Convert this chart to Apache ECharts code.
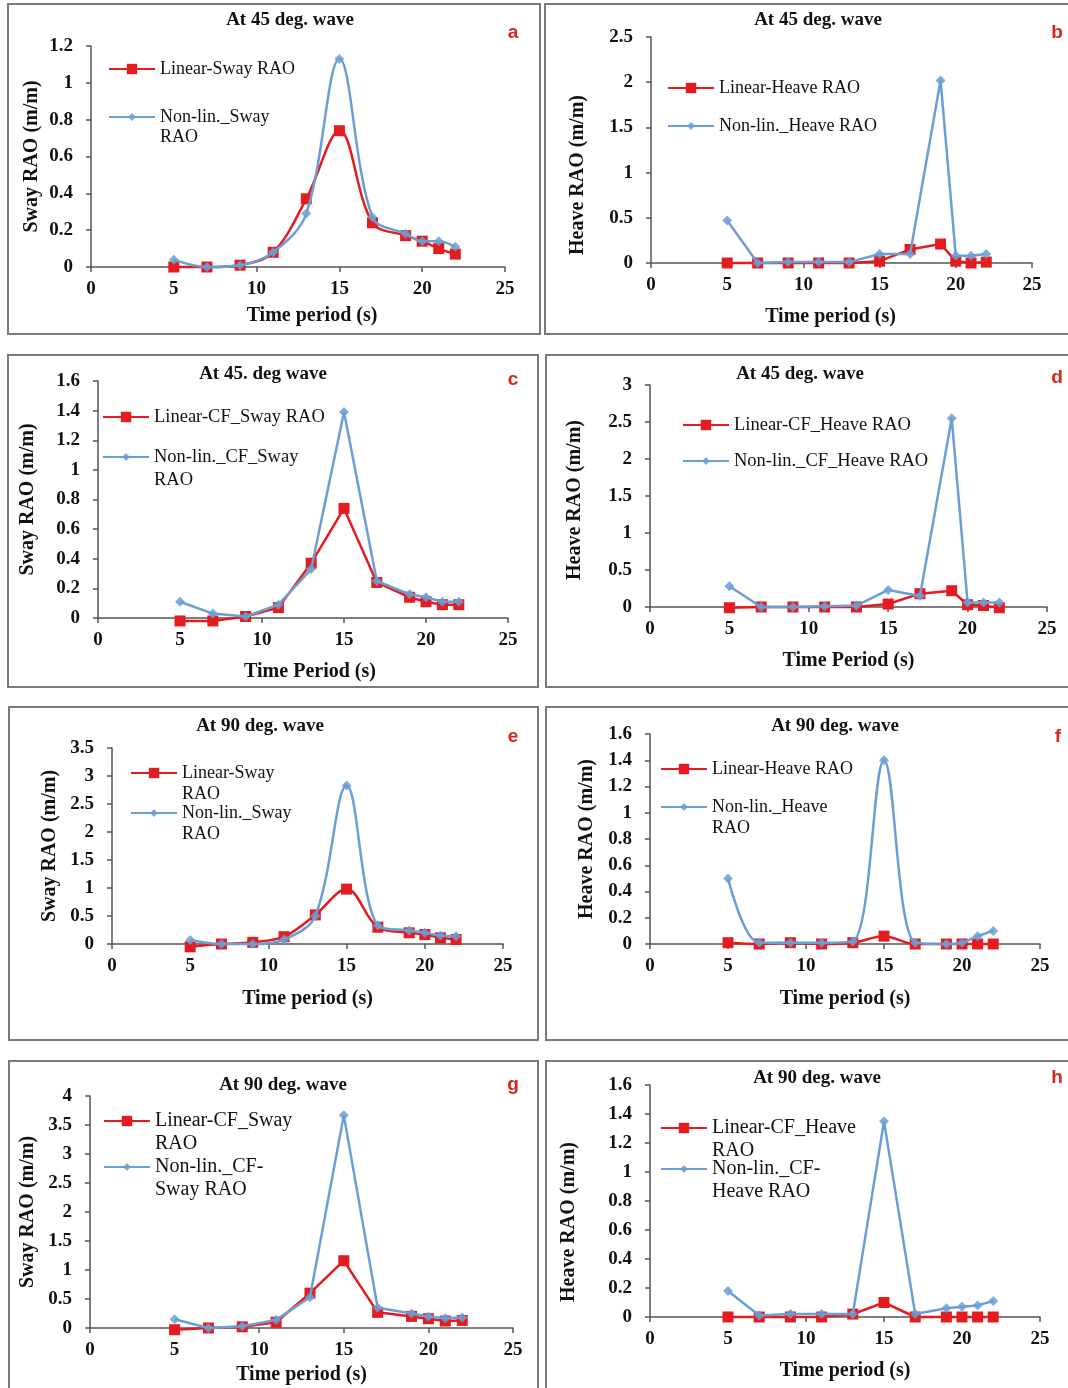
<!DOCTYPE html>
<html><head><meta charset="utf-8">
<script src="https://cdn.jsdelivr.net/npm/echarts@6/dist/echarts.min.js"></script>
<style>html,body{margin:0;padding:0;background:#fff}#c{width:1068px;height:1388px}</style>
</head><body><div id="c"></div>
<script>
// ---- data ----
const periods = [5, 7, 9, 11, 13, 15, 17, 19, 20, 21, 22];
const xTicks = [0, 5, 10, 15, 20, 25];

const aLinear = [0, 0, 0.01, 0.08, 0.37, 0.74, 0.24, 0.17, 0.14, 0.10, 0.07];
const aNonlin = [0.04, 0, 0.01, 0.08, 0.29, 1.13, 0.27, 0.18, 0.14, 0.14, 0.11];

const bLinear = [0, 0, 0, 0, 0, 0.02, 0.15, 0.21, 0.02, 0, 0.01];
const bNonlin = [0.47, 0, 0.01, 0.01, 0.01, 0.10, 0.10, 2.02, 0.08, 0.08, 0.10];

const cLinear = [-0.02, -0.02, 0.01, 0.07, 0.37, 0.74, 0.24, 0.14, 0.11, 0.09, 0.09];
const cNonlin = [0.11, 0.03, 0.01, 0.09, 0.33, 1.39, 0.25, 0.16, 0.14, 0.11, 0.11];

const dLinear = [-0.01, 0, 0, 0, 0, 0.04, 0.18, 0.22, 0.03, 0.02, -0.01];
const dNonlin = [0.28, 0, 0, 0.01, 0.02, 0.23, 0.15, 2.55, 0.06, 0.06, 0.06];

const eLinear = [-0.05, 0, 0.03, 0.13, 0.52, 0.98, 0.30, 0.20, 0.17, 0.11, 0.08];
const eNonlin = [0.07, 0, 0, 0.08, 0.50, 2.83, 0.33, 0.24, 0.20, 0.15, 0.14];

const fLinear = [0.01, 0, 0.01, 0, 0.01, 0.06, 0, 0, 0, 0, 0];
const fNonlin = [0.50, 0.01, 0.01, 0.01, 0.02, 1.40, 0.01, 0, 0.01, 0.06, 0.10];

const gLinear = [-0.03, 0, 0.02, 0.10, 0.60, 1.16, 0.27, 0.20, 0.16, 0.12, 0.13];
const gNonlin = [0.15, 0, 0.03, 0.14, 0.53, 3.67, 0.35, 0.25, 0.20, 0.17, 0.18];

const hLinear = [0, 0, 0, 0, 0.02, 0.10, 0, 0, 0, 0, 0];
const hNonlin = [0.18, 0.01, 0.02, 0.02, 0.02, 1.35, 0.02, 0.06, 0.07, 0.08, 0.11];

const panelTitles = ['At 45 deg. wave', 'At 45 deg. wave', 'At 45. deg wave', 'At 45 deg. wave',
                     'At 90 deg. wave', 'At 90 deg. wave', 'At 90 deg. wave', 'At 90 deg. wave'];
const panelLetters = ['a', 'b', 'c', 'd', 'e', 'f', 'g', 'h'];
const yNames = ['Sway RAO (m/m)', 'Heave RAO (m/m)', 'Sway RAO (m/m)', 'Heave RAO (m/m)',
                'Sway RAO (m/m)', 'Heave RAO (m/m)', 'Sway RAO (m/m)', 'Heave RAO (m/m)'];
const xNames = ['Time period (s)', 'Time period (s)', 'Time Period (s)', 'Time Period (s)',
                'Time period (s)', 'Time period (s)', 'Time period (s)', 'Time period (s)'];
const linearNames = ['Linear-Sway RAO', 'Linear-Heave RAO', 'Linear-CF_Sway RAO', 'Linear-CF_Heave RAO',
                     'Linear-Sway RAO ', 'Linear-Heave RAO ', 'Linear-CF_Sway RAO ', 'Linear-CF_Heave RAO '];
const nonlinNames = ['Non-lin._Sway RAO', 'Non-lin._Heave RAO', 'Non-lin._CF_Sway RAO', 'Non-lin._CF_Heave RAO',
                     'Non-lin._Sway RAO ', 'Non-lin._Heave RAO ', 'Non-lin._CF-Sway RAO', 'Non-lin._CF-Heave RAO'];
// displayed (wrapped) legend labels
const linearLabels = ['Linear-Sway RAO', 'Linear-Heave RAO', 'Linear-CF_Sway RAO', 'Linear-CF_Heave RAO',
                      'Linear-Sway\nRAO', 'Linear-Heave RAO', 'Linear-CF_Sway\nRAO', 'Linear-CF_Heave\nRAO'];
const nonlinLabels = ['Non-lin._Sway\nRAO', 'Non-lin._Heave RAO', 'Non-lin._CF_Sway\nRAO', 'Non-lin._CF_Heave RAO',
                      'Non-lin._Sway\nRAO', 'Non-lin._Heave\nRAO', 'Non-lin._CF-\nSway RAO', 'Non-lin._CF-\nHeave RAO'];
const yMaxes = [1.2, 2.5, 1.6, 3, 3.5, 1.6, 4, 1.6];
const yIntervals = [0.2, 0.5, 0.2, 0.5, 0.5, 0.2, 0.5, 0.2];
const linearData = [aLinear, bLinear, cLinear, dLinear, eLinear, fLinear, gLinear, hLinear];
const nonlinData = [aNonlin, bNonlin, cNonlin, dNonlin, eNonlin, fNonlin, gNonlin, hNonlin];

// ---- layout ----
const layout = [
  {box:[8,4,532,330],   grid:[91,46,414,221],   title:[290,20],  letter:[513,33],  yGap:49, yShift:0,  xGap:39, xShift:14, smooth:true,
   leg1:[108,69], leg2:[108,117], lf:18, lh:20},
  {box:[545,4,540,330], grid:[651,37,381,226],  title:[818,20],  letter:[1057,33], yGap:63, yShift:25, xGap:44, xShift:-11, smooth:false,
   leg1:[667,88], leg2:[667,126], lf:18, lh:22},
  {box:[8,355,530,332], grid:[98,381,410,237],  title:[263,374], letter:[513,380], yGap:60, yShift:0,  xGap:44, xShift:7, smooth:false,
   leg1:[102,417], leg2:[102,457], lf:18.5, lh:23},
  {box:[546,355,540,332], grid:[650,385,397,222], title:[800,374], letter:[1057,378], yGap:65, yShift:4, xGap:44, xShift:0, smooth:false,
   leg1:[682,425], leg2:[682,461], lf:18.5, lh:22},
  {box:[9,707,529,333], grid:[112,748,391,196], title:[260,726], letter:[513,737], yGap:52, yShift:0, xGap:45, xShift:0, smooth:true,
   leg1:[130,773], leg2:[130,813], lf:18, lh:21},
  {box:[546,707,540,333], grid:[650,734,390,210], title:[835,726], letter:[1058,737], yGap:53, yShift:0, xGap:45, xShift:0, smooth:true,
   leg1:[660,769], leg2:[660,807], lf:18, lh:21},
  {box:[9,1061,529,340], grid:[90,1096,423,232], title:[283,1085], letter:[513,1085], yGap:52, yShift:0, xGap:37, xShift:0, smooth:false,
   leg1:[103,1121], leg2:[103,1167], lf:20, lh:23},
  {box:[546,1061,540,340], grid:[650,1085,390,232], title:[817,1078], letter:[1057,1078], yGap:71, yShift:21, xGap:44, xShift:0, smooth:false,
   leg1:[660,1128], leg2:[660,1169], lf:20, lh:23}
];

const SERIF = "'Liberation Serif', 'Times New Roman', serif";
const RED = '#e51c1f';
const BLUE = '#6a9fd3';
const AXIS = '#555555';

const option = {
  animation: false,
  backgroundColor: '#ffffff',
  title: [], grid: [], xAxis: [], yAxis: [], series: [], legend: [], graphic: []
};

layout.forEach((L, i) => {
  // panel border
  option.graphic.push({
    type: 'rect', silent: true,
    shape: {x: L.box[0], y: L.box[1], width: L.box[2], height: L.box[3]},
    style: {fill: 'none', stroke: '#7a7a7a', lineWidth: 2}
  });
  // panel letter
  option.graphic.push({
    type: 'text', silent: true, x: L.letter[0], y: L.letter[1],
    style: {text: panelLetters[i], fill: '#d9261c', font: "bold 19px 'Liberation Sans', Arial, sans-serif",
            align: 'center', verticalAlign: 'middle'}
  });
  option.title.push({
    text: panelTitles[i], left: L.title[0], top: L.title[1], padding: 0,
    textAlign: 'center', textVerticalAlign: 'middle',
    textStyle: {fontFamily: SERIF, fontWeight: 'bold', fontSize: 19, color: '#111'}
  });
  option.grid.push({left: L.grid[0], top: L.grid[1], width: L.grid[2], height: L.grid[3], containLabel: false});
  option.xAxis.push({
    type: 'value', gridIndex: i, min: 0, max: 25, interval: 5,
    name: xNames[i], nameLocation: 'middle', nameGap: L.xGap,
    nameTextStyle: {fontFamily: SERIF, fontWeight: 'bold', fontSize: 20, color: '#111',
                    padding: L.xShift >= 0 ? [0, 0, 0, 2 * L.xShift] : [0, -2 * L.xShift, 0, 0]},
    axisLine: {onZero: false, lineStyle: {color: AXIS, width: 1.5}},
    axisTick: {show: true, length: 5, lineStyle: {color: AXIS, width: 1.5}},
    axisLabel: {margin: 13, fontFamily: SERIF, fontWeight: 'bold', fontSize: 19, color: '#111'},
    splitLine: {show: false}
  });
  option.yAxis.push({
    type: 'value', gridIndex: i, min: 0, max: yMaxes[i], interval: yIntervals[i],
    name: yNames[i], nameLocation: 'middle', nameGap: L.yGap,
    nameTextStyle: {fontFamily: SERIF, fontWeight: 'bold', fontSize: 20, color: '#111',
                    padding: L.yShift >= 0 ? [0, 2 * L.yShift, 0, 0] : [0, 0, 0, -2 * L.yShift]},
    axisLine: {show: true, lineStyle: {color: AXIS, width: 1.5}},
    axisTick: {show: true, length: 5, lineStyle: {color: AXIS, width: 1.5}},
    axisLabel: {margin: 18, fontFamily: SERIF, fontWeight: 'bold', fontSize: 19, color: '#111'},
    splitLine: {show: false}
  });
  const sm = L.smooth ? 0.35 : false;
  option.series.push({
    name: linearNames[i], type: 'line', xAxisIndex: i, yAxisIndex: i,
    data: periods.map((p, k) => [p, linearData[i][k]]),
    smooth: sm, clip: false, symbol: 'rect', symbolSize: 11,
    lineStyle: {color: RED, width: 2.5}, itemStyle: {color: RED}, z: 2
  });
  option.series.push({
    name: nonlinNames[i], type: 'line', xAxisIndex: i, yAxisIndex: i,
    data: periods.map((p, k) => [p, nonlinData[i][k]]),
    smooth: sm, clip: false, symbol: 'diamond', symbolSize: 10,
    lineStyle: {color: BLUE, width: 2.5}, itemStyle: {color: BLUE, opacity: 0.85}, z: 3
  });
  // legends (one per item for placement). Wrapped labels get a blank first line so that
  // the first text line sits level with the legend icon (legend text is centred on the icon).
  [[linearNames[i], linearLabels[i], L.leg1, 13], [nonlinNames[i], nonlinLabels[i], L.leg2, 10]].forEach(([nm, lab, pos, ih]) => {
    const wrapped = lab.indexOf('\n') >= 0;
    const shown = wrapped ? ' \n' + lab : lab;
    const textH = wrapped ? 3 * L.lh : L.lh;
    option.legend.push({
      data: [nm], left: pos[0], top: pos[1] - Math.max(textH, ih) / 2, padding: 0,
      itemWidth: 46, itemHeight: ih, itemGap: 0, selectedMode: false,
      formatter: () => shown,
      textStyle: {fontFamily: SERIF, fontSize: L.lf, color: '#111', lineHeight: L.lh}
    });
  });
});

const chart = echarts.init(document.getElementById('c'));
chart.setOption(option);
</script></body></html>
